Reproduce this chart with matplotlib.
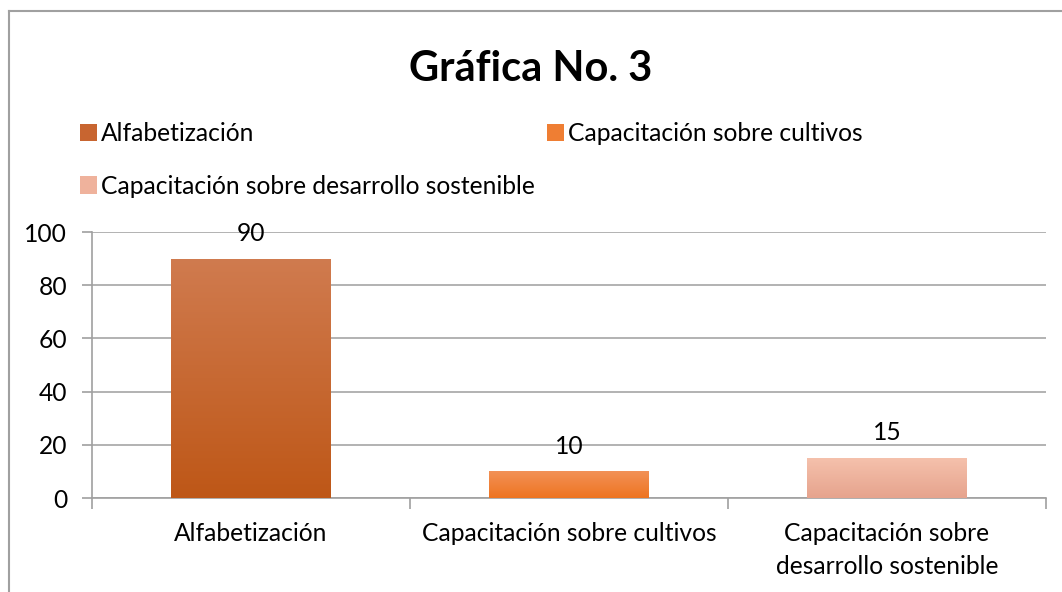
import numpy as np
import matplotlib
matplotlib.use('Agg')
import matplotlib.pyplot as plt
from matplotlib.patches import Patch
from matplotlib.colors import LinearSegmentedColormap
from matplotlib.lines import Line2D

plt.rcParams['font.family'] = ['Lato', 'DejaVu Sans']

# data
categories = ['Alfabetización', 'Capacitación sobre cultivos',
              'Capacitación sobre desarrollo sostenible']
tick_labels = ['Alfabetización', 'Capacitación sobre cultivos',
               'Capacitación sobre\ndesarrollo sostenible']
values = [90, 10, 15]
# gradient colours (top, bottom) for each bar
top_colors = ['#D07B4F', '#F29157', '#F5C1AC']
bottom_colors = ['#BE5717', '#EE7420', '#E6A38D']
mid_colors = ['#C86530', '#EF7E33', '#EFB29C']

FS = 17.7

fig = plt.figure(figsize=(10.62, 5.92), dpi=100)
ax = fig.add_axes([92/1062, 1-498/592, 954/1062, 266/592])

x = np.arange(len(values))
bars = ax.bar(x, values, width=0.503, color='none', zorder=3)
for b, c1, c2 in zip(bars, top_colors, bottom_colors):
    cmap = LinearSegmentedColormap.from_list('g', [c2, c1])
    grad = np.linspace(0, 1, 256).reshape(-1, 1)
    x0 = b.get_x()
    im = ax.imshow(grad, cmap=cmap, aspect='auto', origin='lower',
                   extent=[x0, x0 + b.get_width(), 0, b.get_height()], zorder=3)
    im.set_clip_path(b)

for xi, v in zip(x, values):
    ax.annotate(str(v), (xi, v), xytext=(0, 10), textcoords='offset points',
                ha='center', va='bottom', fontsize=FS, zorder=4)

ax.set_xlim(-0.5, len(values) - 0.5)
ax.set_ylim(0, 100)
ax.set_yticks(np.arange(0, 101, 20))
ax.set_xticks(x)
ax.set_xticklabels(tick_labels, fontsize=FS, linespacing=1.55)
ax.set_xticks(np.arange(-0.5, len(values), 1), minor=True)
ax.tick_params(axis='x', which='major', length=0, pad=17)
ax.tick_params(axis='x', which='minor', length=8, color='#A0A0A0', width=1.2)
ax.tick_params(axis='y', length=7, color='#A0A0A0', width=1.2, labelsize=FS, pad=11)
ax.grid(axis='y', color='#A6A6A6', linewidth=1.2, zorder=0)
ax.set_axisbelow(True)
for s in ['top', 'right']:
    ax.spines[s].set_visible(False)
for s in ['left', 'bottom']:
    ax.spines[s].set_color('#A0A0A0')
    ax.spines[s].set_linewidth(1.2)

fig.text(0.5, 1-69/592, 'Gráfica No. 3', ha='center', va='center',
         fontsize=30, fontweight='bold')

# legend, Excel-like grid: row 1 = first two entries, row 2 = third
handles = [Patch(facecolor=c) for c in mid_colors]
order = [0, 2, 1]
fig.legend([handles[i] for i in order], [categories[i] for i in order],
           ncol=2, frameon=False, loc='upper left',
           bbox_to_anchor=(80/1062, 1-122/592), fontsize=FS,
           handlelength=0.7, handleheight=0.7, handletextpad=0.15,
           columnspacing=0.5, labelspacing=1.2, borderaxespad=0, borderpad=0)

# chart border
fig.add_artist(Line2D([9/1062, 9/1062], [0, 1-11/592], color='#A0A0A0', lw=1.5))
fig.add_artist(Line2D([9/1062, 1], [1-11/592, 1-11/592], color='#A0A0A0', lw=1.5))

fig.savefig('out.png', dpi=100)
